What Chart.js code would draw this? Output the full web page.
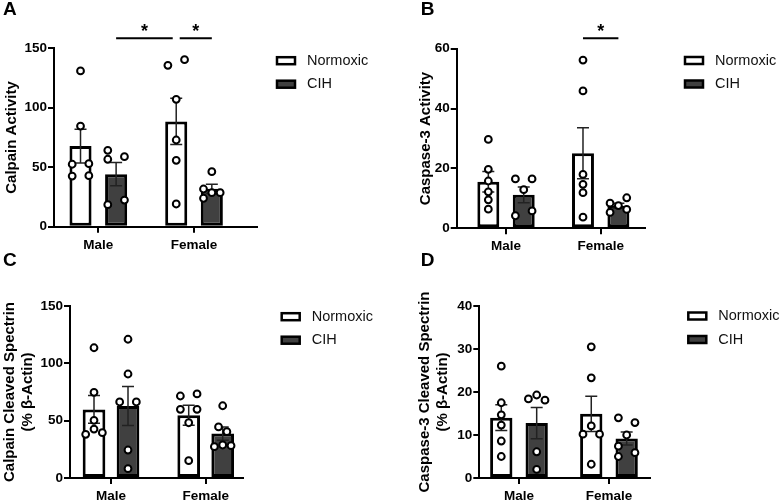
<!DOCTYPE html>
<html>
<head>
<meta charset="utf-8">
<script src="https://cdn.jsdelivr.net/npm/chart.js@4.4.0/dist/chart.umd.min.js"></script>
<style>
  body { margin: 0; background: #fff; }
  #wrap { position: relative; width: 780px; height: 501px; }
  canvas { position: absolute; }
</style>
</head>
<body>
<div id="wrap">
  <canvas id="cA" width="390" height="250" style="left:0;top:0"></canvas>
  <canvas id="cB" width="390" height="250" style="left:390px;top:0"></canvas>
  <canvas id="cC" width="390" height="251" style="left:0;top:250px"></canvas>
  <canvas id="cD" width="390" height="251" style="left:390px;top:250px"></canvas>
</div>
<script>
var groups = ["Male", "Female"];
var seriesNames = ["Normoxic", "CIH"];

// A - calpain activity (individual animals)
var calpainNormMale = [131, 84.6, 52.5, 53, 42.6, 42.9];
var calpainNormFemale = [135.7, 140.4, 107.1, 72.9, 55.8, 19.1];
var calpainCihMale = [64.2, 56.7, 58.9, 18.5, 22.4];
var calpainCihFemale = [46.3, 31.7, 23.9, 28.6, 28.6];

// B - caspase-3 activity
var caspNormMale = [29.7, 19.7, 15.8, 12.2, 9.5, 6.4];
var caspNormFemale = [56.2, 45.9, 18.0, 14.7, 11.9, 3.7];
var caspCihMale = [16.5, 16.5, 12.9, 4.2, 5.8];
var caspCihFemale = [8.4, 7.6, 10.2, 5.3, 6.3];

// C - calpain cleaved spectrin (% b-actin)
var calSpecNormMale = [113.6, 74.7, 50.3, 42.7, 38.1, 39.5];
var calSpecNormFemale = [71.5, 73.3, 59.9, 59.9, 48.2, 15.1];
var calSpecCihMale = [121, 90.7, 66.3, 66.3, 24.4, 8.1];
var calSpecCihFemale = [63, 44.5, 40.4, 27.3, 28.8, 28.2];

// D - caspase-3 cleaved spectrin (% b-actin)
var casSpecNormMale = [26, 17.5, 14.7, 12.3, 8.6, 5];
var casSpecNormFemale = [30.5, 23.3, 10.2, 12.1, 10.2, 3.2];
var casSpecCihMale = [18.4, 19.3, 18.1, 6.1, 2];
var casSpecCihFemale = [14, 12.9, 10, 7.4, 5, 5.9];

var barFill = ["#ffffff", "#404040"];
var FONT = "'Liberation Sans', Arial, sans-serif";
Chart.defaults.font.family = FONT;
Chart.defaults.color = "#000";

function mean(a) {
  var s = 0;
  for (var i = 0; i < a.length; i++) s += a[i];
  return s / a.length;
}
function sem(a) {
  var m = mean(a), s = 0;
  for (var i = 0; i < a.length; i++) s += (a[i] - m) * (a[i] - m);
  return Math.sqrt(s / (a.length - 1)) / Math.sqrt(a.length);
}

var panels = [
  { id: "cA", h: 250, letter: "A", letterPos: [3, 0], title: "Calpain Activity", titlePad: 3,
    yMax: 150, yStep: 50,
    values: [[calpainNormMale, calpainNormFemale], [calpainCihMale, calpainCihFemale]],
    spread: [[[0, 0, -1, 1, -1, 1], [-1, 1, 0, 0, 0, 0]], [[-1, -1, 1, -1, 1], [0, -1, -1, 0, 1]]],
    step: 0.087, catPct: 0.744, barPct: 0.62,
    area: { left: 54, right: 257, top: 48.3, bottom: 226.7 }, xRange: [0.537, 2.658],
    legend: [277, 60.7],
    sig: [ { from: [1, 0], to: [0, 1], y: 158.4, trim: [0, 3.5] },
           { from: [0, 1], to: [1, 1], y: 158.4, trim: [3.5, 0] } ] },
  { id: "cB", h: 250, letter: "B", letterPos: [30.7, 0.5], title: "Caspase-3 Activity", titlePad: 27,
    yMax: 60, yStep: 20,
    values: [[caspNormMale, caspNormFemale], [caspCihMale, caspCihFemale]],
    spread: [[[0, 0, 0, 0, 0, 0], [0, 0, 0, 0, 0, 0]], [[-1, 1, 0, -1, 1], [-1, 0, 1, -1, 1]]],
    step: 0.088, catPct: 0.748, barPct: 0.62,
    area: { left: 66.7, right: 255, top: 48.7, bottom: 228.3 }, xRange: [0.479, 2.468],
    legend: [295, 60.5],
    sig: [ { from: [0, 1], to: [1, 1], y: 63.5, trim: [0, 0] } ] },
  { id: "cC", h: 251, letter: "C", letterPos: [3, 1.5], title: ["Calpain Cleaved Spectrin", "(% \u03b2-Actin)"], titlePad: 1,
    yMax: 150, yStep: 50,
    values: [[calSpecNormMale, calSpecNormFemale], [calSpecCihMale, calSpecCihFemale]],
    spread: [[[0, 0, 0, 0, -1, 1], [-1, 1, -1, 1, 0, 0]], [[0, 0, -1, 1, 0, 0], [0, -0.5, 0.5, -1, 0, 1]]],
    step: 0.088, catPct: 0.718, barPct: 0.667,
    area: { left: 70, right: 243.3, top: 56, bottom: 228 }, xRange: [0.567, 2.397],
    legend: [281.7, 66.7],
    sig: [] },
  { id: "cD", h: 251, letter: "D", letterPos: [30.7, 1.5], title: ["Caspase-3 Cleaved Spectrin", "(% \u03b2-Actin)"], titlePad: 26,
    yMax: 40, yStep: 10,
    values: [[casSpecNormMale, casSpecNormFemale], [casSpecCihMale, casSpecCihFemale]],
    spread: [[[0, 0, 0, 0, 0, 0], [0, 0, -1, 0, 1, 0]], [[-1, 0, 1, 0, 0], [-1, 1, 0, -1, -1, 1]]],
    step: 0.092, catPct: 0.787, barPct: 0.63,
    area: { left: 89.3, right: 260, top: 56, bottom: 228 }, xRange: [0.559, 2.456],
    legend: [298.3, 66],
    sig: [] }
];

function extras(p) {
  return {
    id: "extras" + p.letter,
    afterDatasetDraw: function(chart, args) {
      var meta = args.meta;
      if (meta.type !== "bar") return;
      var ctx = chart.ctx, y = chart.scales.y, s = args.index;
      ctx.save();
      ctx.strokeStyle = "#222";
      ctx.lineWidth = 1.5;
      meta.data.forEach(function(el, g) {
        var v = p.values[s][g], m = mean(v), e = sem(v);
        var yt = y.getPixelForValue(m + e), yb = y.getPixelForValue(m - e);
        ctx.beginPath();
        ctx.moveTo(el.x, yb); ctx.lineTo(el.x, yt);
        ctx.moveTo(el.x - 6, yt); ctx.lineTo(el.x + 6, yt);
        ctx.moveTo(el.x - 6, yb); ctx.lineTo(el.x + 6, yb);
        ctx.stroke();
      });
      ctx.restore();
    },
    afterDraw: function(chart) {
      var ctx = chart.ctx;
      ctx.save();
      // panel letter
      ctx.fillStyle = "#000";
      ctx.font = "bold 19px " + FONT;
      ctx.textBaseline = "top";
      ctx.textAlign = "left";
      ctx.fillText(p.letter, p.letterPos[0], p.letterPos[1]);
      // legend
      ctx.font = "14.5px " + FONT;
      ctx.textBaseline = "middle";
      seriesNames.forEach(function(name, s) {
        var ly = p.legend[1] + s * 23.5;
        ctx.fillStyle = barFill[s];
        ctx.fillRect(p.legend[0], ly - 3.5, 18, 7);
        ctx.strokeStyle = "#000";
        ctx.lineWidth = 2.5;
        ctx.strokeRect(p.legend[0], ly - 3.5, 18, 7);
        ctx.fillStyle = "#111";
        ctx.fillText(name, p.legend[0] + 30, ly);
      });
      // significance bars
      ctx.strokeStyle = "#000";
      ctx.lineWidth = 2;
      ctx.fillStyle = "#000";
      ctx.font = "bold 18px " + FONT;
      ctx.textAlign = "center";
      ctx.textBaseline = "alphabetic";
      p.sig.forEach(function(sg) {
        var x1 = chart.getDatasetMeta(sg.from[0]).data[sg.from[1]].x + sg.trim[0];
        var x2 = chart.getDatasetMeta(sg.to[0]).data[sg.to[1]].x - sg.trim[1];
        var yy = chart.scales.y.getPixelForValue(sg.y);
        ctx.beginPath();
        ctx.moveTo(x1, yy); ctx.lineTo(x2, yy);
        ctx.stroke();
        ctx.fillText("*", (x1 + x2) / 2, yy - 1);
      });
      ctx.restore();
    }
  };
}

panels.forEach(function(p) {
  var datasets = [];
  seriesNames.forEach(function(name, s) {
    datasets.push({
      type: "bar",
      label: name,
      order: 1,
      data: p.values[s].map(function(v, g) { return { x: g + 1, y: mean(v) }; }),
      backgroundColor: barFill[s],
      borderColor: "#000",
      borderWidth: 3,
      borderSkipped: false,
      categoryPercentage: p.catPct,
      barPercentage: p.barPct
    });
  });
  seriesNames.forEach(function(name, s) {
    var pts = [];
    p.values[s].forEach(function(v, g) {
      var cx = g + 1 + (s === 0 ? -1 : 1) * p.catPct / 4;
      v.forEach(function(val, k) {
        pts.push({ x: cx + p.spread[s][g][k] * p.step, y: val });
      });
    });
    datasets.push({
      type: "scatter",
      label: name + " points",
      order: 0,
      data: pts,
      pointRadius: 3.4,
      pointBorderWidth: 2,
      pointBackgroundColor: "#fff",
      pointBorderColor: "#000",
      clip: false
    });
  });

  new Chart(document.getElementById(p.id), {
    type: "bar",
    data: { datasets: datasets },
    options: {
      responsive: false,
      animation: false,
      devicePixelRatio: 1,
      layout: { padding: { left: 0, right: 390 - p.area.right, top: p.area.top, bottom: 0 } },
      plugins: { legend: { display: false }, tooltip: { enabled: false } },
      scales: {
        x: {
          type: "linear",
          min: p.xRange[0],
          max: p.xRange[1],
          offset: false,
          afterBuildTicks: function(sc) {
            sc.ticks = groups.map(function(g, i) { return { value: i + 1 }; });
          },
          afterFit: function(sc) { sc.height = p.h - p.area.bottom; },
          ticks: {
            callback: function(v) { return groups[Math.round(v) - 1]; },
            font: { size: 13.5, weight: "bold" },
            padding: 4,
            maxRotation: 0,
            autoSkip: false
          },
          grid: { drawOnChartArea: false, offset: false, color: "#000", lineWidth: 2, tickLength: 6 },
          border: { color: "#000", width: 2 }
        },
        y: {
          min: 0,
          max: p.yMax,
          afterFit: function(sc) { sc.width = p.area.left; },
          ticks: { stepSize: p.yStep, font: { size: 13.5, weight: "bold" }, padding: 1 },
          title: { display: true, text: p.title, font: { size: 15, weight: "bold" }, padding: { top: p.titlePad, bottom: 0 } },
          grid: { drawOnChartArea: false, color: "#000", lineWidth: 2, tickLength: 6 },
          border: { color: "#000", width: 2 }
        }
      }
    },
    plugins: [extras(p)]
  });
});
</script>
</body>
</html>
